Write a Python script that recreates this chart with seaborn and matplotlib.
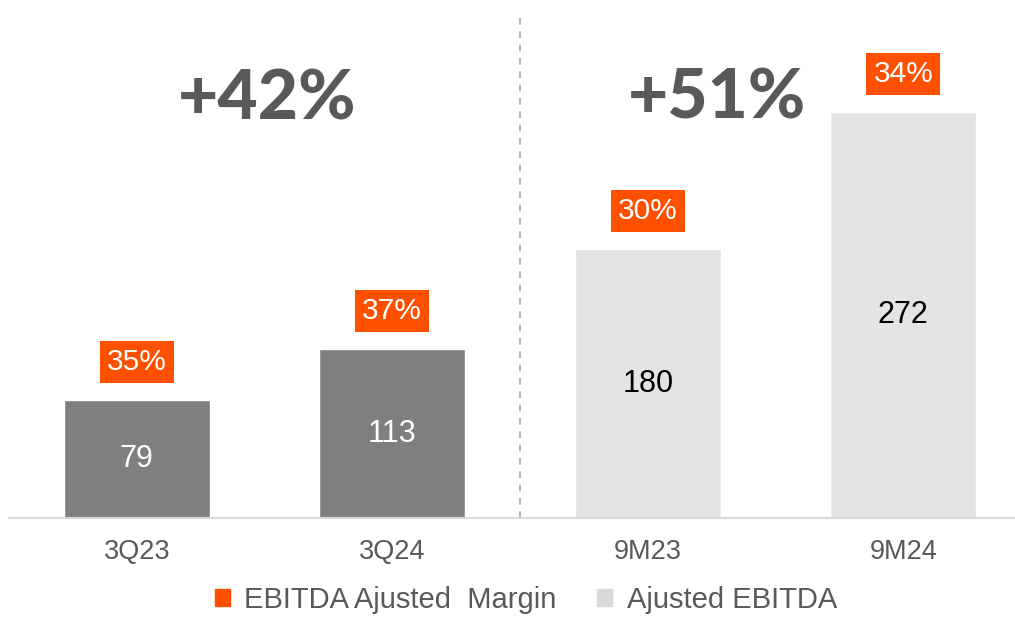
import pandas as pd
import matplotlib.pyplot as plt
import seaborn as sns
from matplotlib.patches import Patch

# Data
periods = ['3Q23', '3Q24', '9M23', '9M24']
ebitda = [79, 113, 180, 272]
margin = ['35%', '37%', '30%', '34%']
growth = ['+42%', '+51%']
bar_colors = ['#7F7F7F', '#7F7F7F', '#E4E4E4', '#E4E4E4']
value_colors = ['white', 'white', 'black', 'black']

orange = '#FF5000'
dark_text = '#595959'

sns.set_style('white')
plt.rcParams['font.family'] = ['Liberation Sans', 'DejaVu Sans']

df = pd.DataFrame({'period': periods, 'ebitda': ebitda})

fig = plt.figure(figsize=(10.15, 6.17), dpi=100)
ax = fig.add_axes([9 / 1015, 1 - 518 / 617, 1022 / 1015, 500 / 617])

sns.barplot(data=df, x='period', y='ebitda', hue='period', palette=bar_colors,
            width=0.57, saturation=1, legend=False, ax=ax)

ax.set_xlim(-0.5, 3.5)
ax.set_ylim(0, 335)

# values inside the bars
for i, v in enumerate(ebitda):
    ax.text(i, v / 2, str(v), ha='center', va='center', fontsize=22, color=value_colors[i])

# margin boxes above the bars
for i, (v, m) in enumerate(zip(ebitda, margin)):
    ax.annotate(m, xy=(i, v), xytext=(0, 27.5), textcoords='offset points',
                ha='center', va='center', fontsize=21.5, color='white',
                bbox=dict(boxstyle='square,pad=0.24', fc=orange, ec='none'))

# growth labels
big_font = dict(fontsize=50, color=dark_text, fontweight='black', ha='center', va='center',
                family=['Lato', 'DejaVu Sans'])
ax.text(0.51, 280, growth[0], **big_font)
ax.text(2.27, 281, growth[1], **big_font)

# separator between quarter and nine-month figures
ax.axvline(1.5, color='#A6A6A6', linestyle=(0, (4, 4)), linewidth=1.2)

# axes styling
sns.despine(ax=ax, left=True)
ax.spines['bottom'].set_color('#D9D9D9')
ax.spines['bottom'].set_linewidth(1.5)
ax.set_yticks([])
ax.set_xlabel('')
ax.set_ylabel('')
ax.tick_params(axis='x', length=0, pad=15, labelsize=19.5, labelcolor=dark_text)

handles = [Patch(color=orange, label='EBITDA Ajusted  Margin'),
           Patch(color='#D9D9D9', label='Ajusted EBITDA')]
fig.legend(handles=handles, loc='center', bbox_to_anchor=(526 / 1015, 1 - 600 / 617),
           ncol=2, frameon=False, fontsize=21, labelcolor=dark_text,
           handlelength=0.5, handleheight=0.5, handletextpad=0.5, columnspacing=1.4)

fig.savefig('out.png', dpi=100)
